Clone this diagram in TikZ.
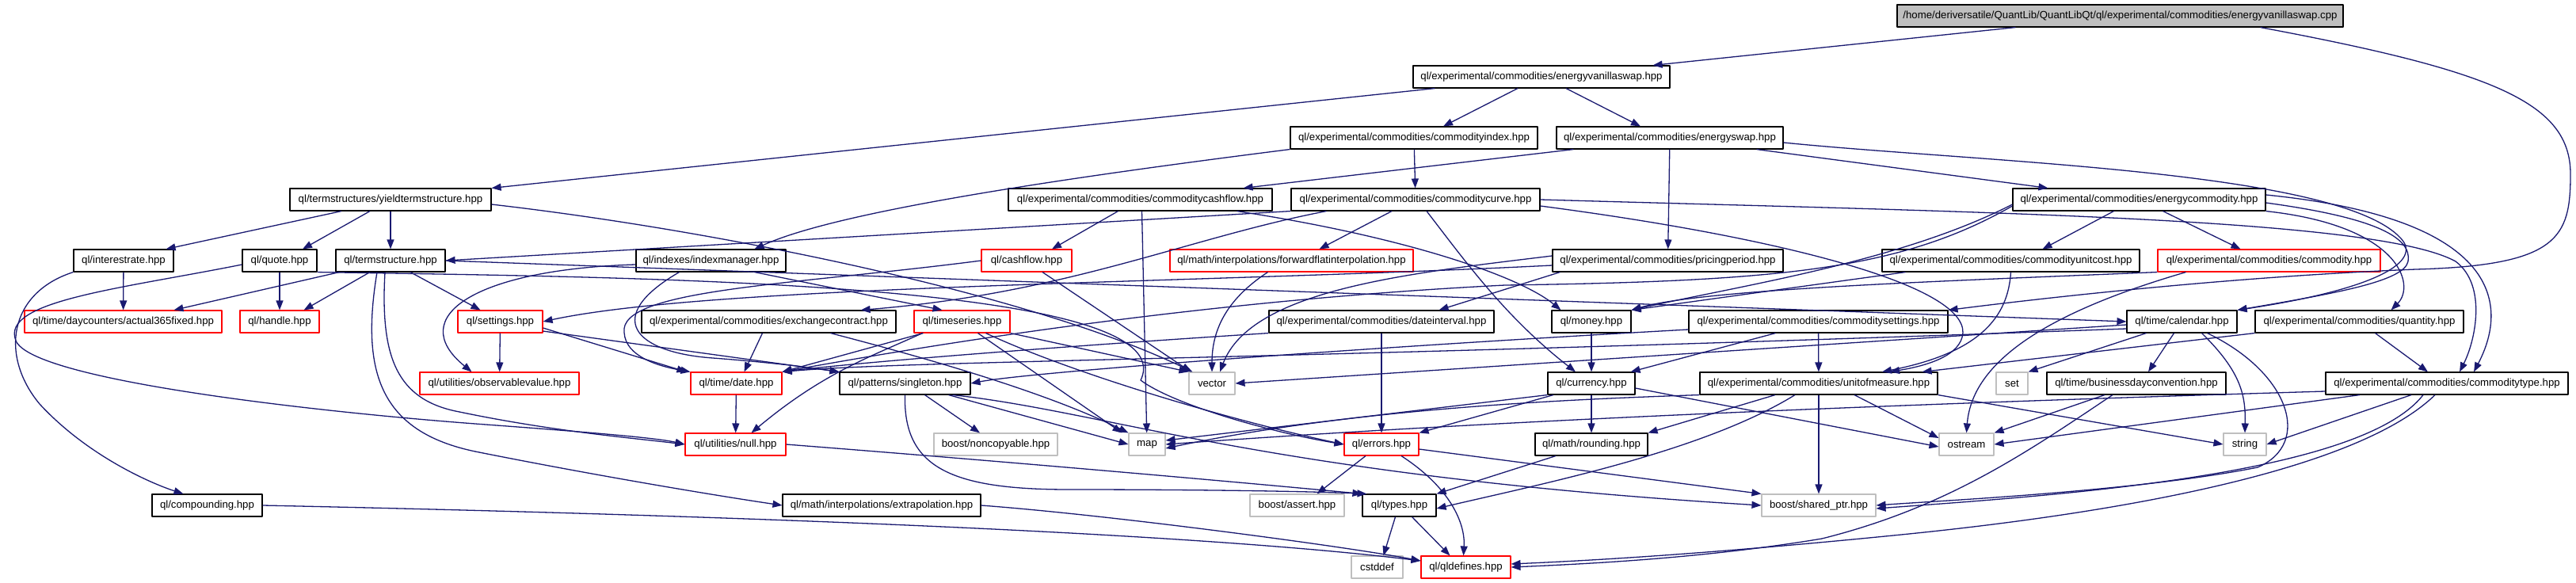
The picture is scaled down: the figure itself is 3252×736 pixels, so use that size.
\documentclass[tikz,border=0pt]{standalone}
\usepackage{fontspec}
\usepackage{tikz}
\usetikzlibrary{arrows.meta}
\newfontfamily\hppfont{Liberation Sans}
\definecolor{depblue}{HTML}{191970}
\definecolor{extgray}{HTML}{BFBFBF}
\definecolor{truncred}{HTML}{FF0000}

\begin{document}
\begin{tikzpicture}[
  x=1pt, y=-1pt,
  >={Triangle[length=12pt,width=9pt]},
  line join=round,
  file/.style={draw=black, line width=1.1pt, minimum height=28pt, inner sep=0pt,
               font=\hppfont\fontsize{13.2pt}{15pt}\selectfont},
  trunc/.style={file, draw=truncred},
  ext/.style={file, draw=extgray},
  dep/.style={->, draw=depblue, line width=1.3pt}
]
  \useasboundingbox (0,0) rectangle (3252,736);

  % Source file and first level
  \node[file, fill=extgray, minimum width=563pt] (root) at (2676.5,20)
    {/home/deriversatile/QuantLib/QuantLibQt/ql/experimental/commodities/energyvanillaswap.cpp};
  \node[file, minimum width=324pt] (evs) at (1946,97) {ql/experimental/commodities/energyvanillaswap.hpp};

  % Row 2
  \node[file, minimum width=312pt] (cidx)  at (1785,174) {ql/experimental/commodities/commodityindex.hpp};
  \node[file, minimum width=286pt] (eswap) at (2108,174) {ql/experimental/commodities/energyswap.hpp};

  % Row 3
  \node[file, minimum width=254pt] (yts)    at (493,252)    {ql/termstructures/yieldtermstructure.hpp};
  \node[file, minimum width=333pt] (ccf)    at (1439.5,252) {ql/experimental/commodities/commoditycashflow.hpp};
  \node[file, minimum width=314pt] (ccurve) at (1787,252)   {ql/experimental/commodities/commoditycurve.hpp};
  \node[file, minimum width=319pt] (ecomm)  at (2700.5,252) {ql/experimental/commodities/energycommodity.hpp};

  % Row 4
  \node[file,  minimum width=126pt] (irate) at (156,329)    {ql/interestrate.hpp};
  \node[file,  minimum width=94pt]  (quote) at (353,329)    {ql/quote.hpp};
  \node[file,  minimum width=138pt] (ts)    at (493,329)    {ql/termstructure.hpp};
  \node[file,  minimum width=189pt] (idxm)  at (897.5,329)  {ql/indexes/indexmanager.hpp};
  \node[trunc, minimum width=114pt] (cf)    at (1296,329)   {ql/cashflow.hpp};
  \node[trunc, minimum width=307pt] (ffi)   at (1630.5,329) {ql/math/interpolations/forwardflatinterpolation.hpp};
  \node[file,  minimum width=291pt] (pp)    at (2105.5,329) {ql/experimental/commodities/pricingperiod.hpp};
  \node[file,  minimum width=325pt] (cuc)   at (2538.5,329) {ql/experimental/commodities/commodityunitcost.hpp};
  \node[trunc, minimum width=281pt] (comm)  at (2864.5,329) {ql/experimental/commodities/commodity.hpp};

  % Row 5
  \node[trunc, minimum width=249pt] (a365)     at (155.5,406)  {ql/time/daycounters/actual365fixed.hpp};
  \node[trunc, minimum width=100pt] (handle)   at (353,406)    {ql/handle.hpp};
  \node[trunc, minimum width=107pt] (settings) at (631.5,406)  {ql/settings.hpp};
  \node[file,  minimum width=321pt] (exc)      at (970.5,406)  {ql/experimental/commodities/exchangecontract.hpp};
  \node[trunc, minimum width=121pt] (tser)     at (1214.5,406) {ql/timeseries.hpp};
  \node[file,  minimum width=284pt] (dint)     at (1744,406)   {ql/experimental/commodities/dateinterval.hpp};
  \node[file,  minimum width=100pt] (money)    at (2009,406)   {ql/money.hpp};
  \node[file,  minimum width=327pt] (csett)    at (2295.5,406) {ql/experimental/commodities/commoditysettings.hpp};
  \node[file,  minimum width=139pt] (cal)      at (2754.5,406) {ql/time/calendar.hpp};
  \node[file,  minimum width=263pt] (qty)      at (2978.5,406) {ql/experimental/commodities/quantity.hpp};

  % Row 6
  \node[trunc, minimum width=201pt] (obs)    at (630.5,484)  {ql/utilities/observablevalue.hpp};
  \node[trunc, minimum width=115pt] (date)   at (929.5,484)  {ql/time/date.hpp};
  \node[file,  minimum width=165pt] (single) at (1142.5,484) {ql/patterns/singleton.hpp};
  \node[ext,   minimum width=58pt]  (vector) at (1530,484)   {vector};
  \node[file,  minimum width=110pt] (curr)   at (2009,484)   {ql/currency.hpp};
  \node[file,  minimum width=300pt] (uom)    at (2296,484)   {ql/experimental/commodities/unitofmeasure.hpp};
  \node[ext,   minimum width=40pt]  (set)    at (2540,484)   {set};
  \node[file,  minimum width=226pt] (bdc)    at (2697,484)   {ql/time/businessdayconvention.hpp};
  \node[file,  minimum width=306pt] (ctype)  at (3089,484)   {ql/experimental/commodities/commoditytype.hpp};

  % Row 7
  \node[trunc, minimum width=127pt] (null)    at (928.5,561)  {ql/utilities/null.hpp};
  \node[ext,   minimum width=156pt] (noncopy) at (1257,561)   {boost/noncopyable.hpp};
  \node[ext,   minimum width=46pt]  (map)     at (1448,561)   {map};
  \node[trunc, minimum width=94pt]  (errors)  at (1744,561)   {ql/errors.hpp};
  \node[file,  minimum width=142pt] (round)   at (2009,561)   {ql/math/rounding.hpp};
  \node[ext,   minimum width=69pt]  (ostream) at (2482.5,561) {ostream};
  \node[ext,   minimum width=54pt]  (string)  at (2834,561)   {string};

  % Row 8
  \node[file, minimum width=139pt] (comp)   at (261.5,638) {ql/compounding.hpp};
  \node[file, minimum width=250pt] (extrap) at (1113,638)  {ql/math/interpolations/extrapolation.hpp};
  \node[ext,  minimum width=119pt] (assert) at (1637.5,638) {boost/assert.hpp};
  \node[file, minimum width=93pt]  (types)  at (1766.5,638) {ql/types.hpp};
  \node[ext,  minimum width=144pt] (sptr)   at (2296,638)  {boost/shared\_ptr.hpp};

  % Row 9
  \node[ext,   minimum width=65pt]  (cstddef) at (1738.5,716) {cstddef};
  \node[trunc, minimum width=113pt] (qldef)   at (1850.5,716) {ql/qldefines.hpp};

  % energyvanillaswap.cpp
  \draw[dep] ([xshift=150pt]root.south west) -- ([xshift=-22pt]evs.north east);
  \draw[dep] ([xshift=-105pt]root.south east) .. controls (3150,90) and (3245,130) .. (3245,220)
    .. controls (3245,300) and (3230,335) .. (3050,340) .. controls (2800,350) and (2550,380) .. (csett.north east);

  % energyvanillaswap.hpp
  \draw[dep] ([xshift=28pt]evs.south west) -- (yts.north east);
  \draw[dep] ([xshift=-30pt]evs.south) -- ([xshift=37pt]cidx.north);
  \draw[dep] ([xshift=31pt]evs.south) -- ([xshift=-37pt]eswap.north);

  % commodityindex.hpp
  \draw[dep] (cidx) -- (ccurve);
  \draw[dep] (cidx.south west) .. controls (1300,230) and (1050,270) .. ([xshift=55pt]idxm.north);

  % energyswap.hpp
  \draw[dep] ([xshift=22pt]eswap.south west) -- ([xshift=-37pt]ccf.north east);
  \draw[dep] (eswap) -- (pp);
  \draw[dep] ([xshift=-34pt]eswap.south east) -- ([xshift=-115pt]ecomm.north);
  \draw[dep] ([yshift=-6pt]eswap.east) .. controls (2500,205) and (2950,215) .. (3030,300)
    .. controls (3060,330) and (3000,365) .. (cal.north east);

  % yieldtermstructure.hpp
  \draw[dep] ([xshift=-62pt]yts.south) -- ([xshift=-10pt]irate.north east);
  \draw[dep] ([xshift=-26pt]yts.south) -- ([xshift=29pt]quote.north);
  \draw[dep] (yts) -- (ts);
  \draw[dep] ([yshift=-6pt]yts.east) .. controls (900,290) and (1300,370) .. ([xshift=5pt]vector.north west);

  % commoditycashflow.hpp
  \draw[dep] ([xshift=-28pt]ccf.south) -- ([xshift=32pt]cf.north);
  \draw[dep] ([xshift=2pt]ccf.south) -- (map);
  \draw[dep] ([xshift=-45pt]ccf.south east) .. controls (1780,300) and (1920,350) .. ([xshift=12pt]money.north west);

  % commoditycurve.hpp
  \draw[dep] (ccurve.south west) -- (ts.east);
  \draw[dep] ([xshift=45pt]ccurve.south west) .. controls (1500,300) and (1350,370) .. ([xshift=-45pt]exc.north east);
  \draw[dep] ([xshift=-30pt]ccurve.south) -- ([xshift=35pt]ffi.north);
  \draw[dep] ([xshift=14pt]ccurve.south) .. controls (1850,330) and (1900,400) .. ([xshift=-20pt]curr.north);
  \draw[dep] (ccurve.east) .. controls (2500,268) and (3000,275) .. (3100,330)
    .. controls (3140,360) and (3125,430) .. ([xshift=16pt]ctype.north);
  \draw[dep] ([yshift=-8pt]ccurve.east) .. controls (2250,300) and (2480,360) .. (2478,420)
    .. controls (2476,450) and (2430,462) .. ([xshift=90pt]uom.north);

  % energycommodity.hpp
  \draw[dep] ([xshift=-32pt]ecomm.south) -- ([xshift=40pt]cuc.north);
  \draw[dep] ([xshift=30pt]ecomm.south) -- ([xshift=-36pt]comm.north);
  \draw[dep] ([yshift=-6pt]ecomm.west) .. controls (2400,330) and (2200,360) .. (money.north east);
  \draw[dep] (ecomm.south east) .. controls (3030,285) and (3050,360) .. ([xshift=40pt]qty.north);
  \draw[dep] ([yshift=6pt]ecomm.east) .. controls (3150,275) and (3170,380) .. ([xshift=34pt]ctype.north);
  \draw[dep] ([yshift=-4pt]ecomm.east) .. controls (3000,275) and (3045,300) .. (3040,330)
    .. controls (3035,355) and (2950,370) .. (cal.north east);
  \draw[dep] ([yshift=-8pt]ecomm.west) .. controls (2400,340) and (2250,355) .. (1900,360)
    .. controls (1500,380) and (1150,440) .. (date.north east);

  % interestrate.hpp
  \draw[dep] (irate) -- (a365);
  \draw[dep] (irate.south west) .. controls (10,370) and (0,450) .. (50,510)
    .. controls (110,575) and (190,610) .. ([xshift=-30pt]comp.north);

  % quote.hpp
  \draw[dep] (quote) -- (handle);
  \draw[dep] ([yshift=-5pt]quote.west) .. controls (150,365) and (0,380) .. (20,430)
    .. controls (40,480) and (400,520) .. (600,535) .. controls (750,546) and (830,553) .. (null.west);
  \draw[dep] (quote.south east) .. controls (800,350) and (1500,355) .. (1440,480)
    .. controls (1480,510) and (1600,545) .. (errors.west);

  % termstructure.hpp
  \draw[dep] ([xshift=5pt]ts.south west) -- ([xshift=64pt]a365.north);
  \draw[dep] ([xshift=-26pt]ts.south) -- ([xshift=-20pt]handle.north east);
  \draw[dep] ([xshift=25pt]ts.south) -- ([xshift=-25pt]settings.north);
  \draw[dep] ([xshift=-7pt]ts.south) .. controls (480,450) and (500,505) .. (580,520)
    .. controls (700,545) and (800,553) .. (null.west);
  \draw[dep] ([xshift=-17pt]ts.south) .. controls (455,470) and (480,545) .. (600,570)
    .. controls (750,600) and (900,625) .. (extrap.west);
  \draw[dep] (ts.east) -- (cal.west);

  % indexmanager.hpp
  \draw[dep] ([yshift=-5pt]idxm.west) .. controls (600,340) and (510,400) .. ([xshift=-35pt]obs.north);
  \draw[dep] ([xshift=55pt]idxm.south) -- ([xshift=-25pt]tser.north);
  \draw[dep] ([xshift=-40pt]idxm.south) .. controls (760,400) and (800,445) .. (900,452)
    .. controls (980,458) and (1030,465) .. (single.north west);

  % cashflow.hpp
  \draw[dep] ([xshift=20pt]cf.south) -- ([xshift=3pt]vector.north west);
  \draw[dep] (cf.west) .. controls (1000,360) and (780,365) .. (788,420)
    .. controls (790,450) and (830,462) .. (date.north west);

  % forwardflatinterpolation.hpp
  \draw[dep] ([xshift=-30pt]ffi.south) .. controls (1545,380) and (1530,420) .. (vector.north);

  % pricingperiod.hpp
  \draw[dep] ([xshift=10pt]pp.south west) -- ([xshift=-70pt]dint.north east);
  \draw[dep] ([yshift=6pt]pp.west) .. controls (1780,345) and (1580,365) .. ([xshift=10pt]vector.north);
  \draw[dep] ([yshift=-6pt]pp.west) .. controls (1500,358) and (900,360) .. (settings.east);

  % commodityunitcost.hpp
  \draw[dep] ([xshift=30pt]cuc.south west) -- (money.north east);
  \draw[dep] (cuc.south) .. controls (2535,400) and (2500,445) .. ([xshift=80pt]uom.north);

  % commodity.hpp
  \draw[dep] (comm.south west) .. controls (2450,355) and (2150,365) .. (money.north east);
  \draw[dep] ([xshift=-105pt]comm.south) .. controls (2600,390) and (2490,450) .. (ostream.north);

  % settings.hpp
  \draw[dep] (settings) -- (obs);
  \draw[dep] ([yshift=-8pt]settings.east) -- ([xshift=-5pt]date.north west);
  \draw[dep] ([yshift=-12pt]settings.east) -- (single.north west);

  % exchangecontract.hpp
  \draw[dep] ([xshift=-8pt]exc.south) -- ([xshift=10pt]date.north);
  \draw[dep] ([xshift=78pt]exc.south) .. controls (1200,460) and (1330,500) .. (map.north west);

  % timeseries.hpp
  \draw[dep] ([xshift=12pt]tser.south west) -- (date.north east);
  \draw[dep] ([xshift=-50pt]tser.south) .. controls (1100,450) and (1040,470) .. ([xshift=20pt]null.north);
  \draw[dep] ([xshift=20pt]tser.south) -- ([xshift=-8pt]map.north west);
  \draw[dep] (tser.south east) -- (vector.north west);
  \draw[dep] ([xshift=30pt]tser.south) .. controls (1350,470) and (1550,530) .. (errors.west);

  % dateinterval.hpp
  \draw[dep] (dint) -- (errors);
  \draw[dep] (dint.south west) .. controls (1300,440) and (1080,458) .. (date.north east);

  % money.hpp
  \draw[dep] (money) -- (curr);

  % commoditysettings.hpp
  \draw[dep] ([xshift=110pt]csett.south west) -- ([xshift=-6pt]curr.north east);
  \draw[dep] (csett) -- (uom);
  \draw[dep] ([yshift=-10pt]csett.west) .. controls (1700,440) and (1300,470) .. (single.east);

  % calendar.hpp
  \draw[dep] ([xshift=-45pt]cal.south) -- (set.north east);
  \draw[dep] ([xshift=-10pt]cal.south) -- ([xshift=15pt]bdc.north);
  \draw[dep] ([xshift=25pt]cal.south) .. controls (2830,470) and (2835,500) .. (string.north);
  \draw[dep] ([xshift=32pt]cal.south) .. controls (2890,470) and (2920,560) .. (2850,590)
    .. controls (2700,620) and (2450,632) .. (sptr.east);
  \draw[dep] ([yshift=-4pt]cal.west) -- (vector.east);
  \draw[dep] ([yshift=-9pt]cal.west) .. controls (1600,455) and (1150,455) .. (date.north east);

  % quantity.hpp
  \draw[dep] ([xshift=20pt]qty.south) -- ([xshift=-24pt]ctype.north);
  \draw[dep] (qty.south west) -- ([xshift=-20pt]uom.north east);

  % date.hpp, singleton.hpp, null.hpp
  \draw[dep] (date) -- (null);
  \draw[dep] ([xshift=25pt]single.south) -- ([xshift=-20pt]noncopy.north);
  \draw[dep] ([xshift=55pt]single.south) -- (map.west);
  \draw[dep] ([xshift=60pt]single.south) .. controls (1400,520) and (1600,600) .. (sptr.west);
  \draw[dep] (single.south) .. controls (1140,590) and (1200,618) .. (1350,618)
    .. controls (1500,618) and (1650,620) .. ([xshift=6pt]types.north west);
  \draw[dep] (null.east) .. controls (1300,585) and (1600,612) .. (types.north west);

  % currency.hpp
  \draw[dep] ([xshift=-48pt]curr.south) -- (errors.north east);
  \draw[dep] (curr) -- (round);
  \draw[dep] ([yshift=-6pt]curr.east) -- ([yshift=-3pt]ostream.west);
  \draw[dep] (curr.south west) -- ([yshift=5pt]map.east);

  % unitofmeasure.hpp
  \draw[dep] ([xshift=-30pt]uom.south) .. controls (2150,570) and (1950,610) .. ([yshift=-4pt]types.east);
  \draw[dep] ([xshift=-55pt]uom.south) -- (round.north east);
  \draw[dep] (uom) -- (sptr);
  \draw[dep] ([xshift=45pt]uom.south) -- ([yshift=8pt]ostream.west);
  \draw[dep] (uom.south east) -- (string.west);
  \draw[dep] (uom.south west) .. controls (1950,505) and (1700,518) .. ([yshift=-5pt]map.east);

  % businessdayconvention.hpp
  \draw[dep] ([xshift=-40pt]bdc.south) -- (ostream.north east);
  \draw[dep] ([xshift=-30pt]bdc.south) .. controls (2560,570) and (2460,640) .. (2300,680)
    .. controls (2150,705) and (2000,712) .. (qldef.east);

  % commoditytype.hpp
  \draw[dep] ([xshift=-110pt]ctype.south) -- (ostream.east);
  \draw[dep] ([xshift=-45pt]ctype.south) -- (string.east);
  \draw[dep] ([xshift=-30pt]ctype.south) .. controls (2980,600) and (2600,625) .. ([yshift=-4pt]sptr.east);
  \draw[dep] ([xshift=-15pt]ctype.south) .. controls (2980,590) and (2700,645) .. (2400,675)
    .. controls (2150,700) and (2000,708) .. ([yshift=4pt]qldef.east);
  \draw[dep] ([yshift=-10pt]ctype.west) .. controls (2400,510) and (1900,530) .. (map.east);

  % errors.hpp, rounding.hpp
  \draw[dep] ([xshift=-20pt]errors.south) -- ([xshift=25pt]assert.north);
  \draw[dep] ([xshift=25pt]errors.south) .. controls (1830,615) and (1850,660) .. ([xshift=-3pt]qldef.north);
  \draw[dep] ([yshift=-6pt]errors.east) -- (sptr.north west);
  \draw[dep] ([xshift=-45pt]round.south) -- (types.north east);

  % compounding.hpp, extrapolation.hpp, types.hpp
  \draw[dep] (comp.east) .. controls (900,650) and (1500,672) .. ([yshift=8pt]qldef.west);
  \draw[dep] (extrap.east) .. controls (1400,650) and (1700,690) .. ([yshift=8pt]qldef.west);
  \draw[dep] ([xshift=-5pt]types.south) -- ([xshift=8pt]cstddef.north);
  \draw[dep] ([xshift=16pt]types.south) -- ([xshift=-20pt]qldef.north);
\end{tikzpicture}
\end{document}
